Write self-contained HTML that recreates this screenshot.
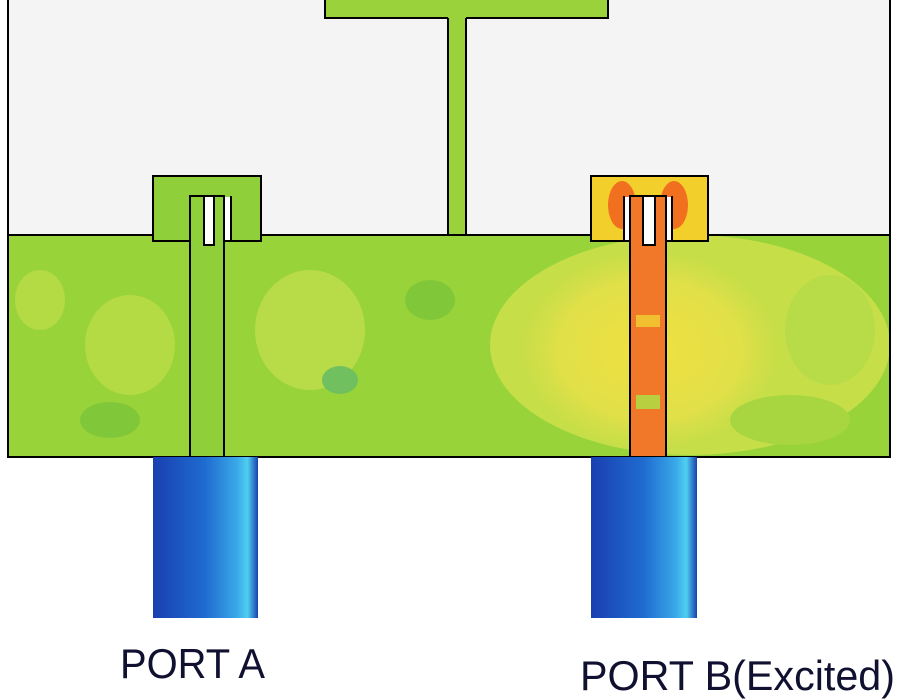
<!DOCTYPE html>
<html><head><meta charset="utf-8"><style>
html,body{margin:0;padding:0;background:#fff;width:900px;height:700px;overflow:hidden}
svg{display:block}
</style></head><body>
<svg width="900" height="700" viewBox="0 0 900 700" xmlns="http://www.w3.org/2000/svg">
<defs>
<linearGradient id="port" x1="0" x2="1" y1="0" y2="0">
<stop offset="0" stop-color="#1a3fb0"/><stop offset="0.5" stop-color="#1f6cd0"/>
<stop offset="0.8" stop-color="#3aa8e8"/><stop offset="0.9" stop-color="#4fd0f0"/><stop offset="1" stop-color="#1a3fb0"/>
</linearGradient>
<radialGradient id="hot" cx="0.5" cy="0.5" r="0.5">
<stop offset="0" stop-color="#f0e040"/><stop offset="0.7" stop-color="#e8e048" stop-opacity="0.8"/><stop offset="1" stop-color="#e0e048" stop-opacity="0"/>
</radialGradient>
</defs>
<rect x="8" y="-2" width="440" height="237" fill="#f4f4f4" stroke="#000" stroke-width="2"/>
<rect x="466" y="-2" width="424" height="237" fill="#f4f4f4" stroke="#000" stroke-width="2"/>
<rect x="325" y="-2" width="283" height="20" fill="#9ad23c" stroke="#000" stroke-width="2"/>
<rect x="448" y="17" width="18" height="220" fill="#9ad23c"/>
<line x1="448" y1="18" x2="448" y2="235" stroke="#000" stroke-width="2"/>
<line x1="466" y1="18" x2="466" y2="235" stroke="#000" stroke-width="2"/>
<!-- substrate -->
<rect x="8" y="235" width="882" height="222" fill="#98d33a"/>
<ellipse cx="130" cy="345" rx="45" ry="50" fill="#b4da44"/>
<ellipse cx="310" cy="330" rx="55" ry="60" fill="#b8dc48"/>
<ellipse cx="40" cy="300" rx="25" ry="30" fill="#b4da44"/>
<ellipse cx="430" cy="300" rx="25" ry="20" fill="#80c83a"/>
<ellipse cx="340" cy="380" rx="18" ry="14" fill="#70c060"/>
<ellipse cx="110" cy="420" rx="30" ry="18" fill="#80c83a"/>
<ellipse cx="690" cy="345" rx="200" ry="110" fill="#c6de48"/>
<ellipse cx="650" cy="350" rx="130" ry="100" fill="url(#hot)"/>
<ellipse cx="830" cy="330" rx="45" ry="55" fill="#b8dc48"/>
<ellipse cx="790" cy="420" rx="60" ry="25" fill="#a8d640"/>
<rect x="8" y="235" width="882" height="222" fill="none" stroke="#000" stroke-width="2"/>
<!-- left tab -->
<rect x="153" y="176" width="108" height="65" fill="#8fcf3a" stroke="#000" stroke-width="2"/>
<rect x="190" y="196" width="34" height="261" fill="#8fcf3a" stroke="#000" stroke-width="2"/>
<rect x="191" y="235" width="32" height="8" fill="#8fcf3a"/>
<rect x="204" y="196" width="10" height="49" fill="#fff" stroke="#000" stroke-width="2"/>
<rect x="225" y="197" width="5" height="43" fill="#fff"/>
<line x1="231" y1="196" x2="231" y2="241" stroke="#000" stroke-width="2"/>
<!-- right tab -->
<rect x="591" y="176" width="117" height="65" fill="#f2cf2a" stroke="#000" stroke-width="2"/>
<ellipse cx="622" cy="205" rx="14" ry="24" fill="#f07020"/>
<ellipse cx="674" cy="205" rx="14" ry="24" fill="#f07020"/>
<rect x="630" y="196" width="36" height="261" fill="#f07828" stroke="#000" stroke-width="2"/>
<rect x="631" y="235" width="34" height="8" fill="#f07828"/>
<rect x="636" y="315" width="24" height="12" fill="#f0c030"/>
<rect x="636" y="395" width="24" height="14" fill="#b8d040"/>
<rect x="625" y="197" width="4" height="43" fill="#fff"/>
<line x1="624" y1="196" x2="624" y2="241" stroke="#000" stroke-width="2"/>
<rect x="643" y="196" width="12" height="49" fill="#fff" stroke="#000" stroke-width="2"/>
<rect x="667" y="197" width="4" height="43" fill="#fff"/>
<line x1="672" y1="196" x2="672" y2="241" stroke="#000" stroke-width="2"/>
<!-- ports -->
<rect x="153" y="457" width="105" height="161" fill="url(#port)"/>
<rect x="591" y="457" width="106" height="161" fill="url(#port)"/>
<text x="120" y="678" font-family="Liberation Sans, sans-serif" font-size="42" fill="#101030" textLength="145" lengthAdjust="spacingAndGlyphs">PORT A</text>
<text x="580" y="690" font-family="Liberation Sans, sans-serif" font-size="42" fill="#101030" textLength="315" lengthAdjust="spacingAndGlyphs">PORT B(Excited)</text>
</svg>
</body></html>
